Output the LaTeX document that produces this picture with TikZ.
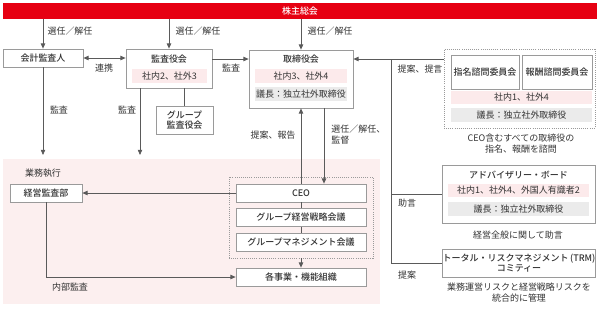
\documentclass[tikz,border=0pt]{standalone}
\usepackage{fontspec}
\setmainfont{Noto Sans CJK JP}[BoldFont={Noto Sans CJK JP Medium}]
\usepackage{tikz}
\usetikzlibrary{positioning,arrows.meta,calc}

\definecolor{barred}{HTML}{E60012}
\definecolor{rowpink}{HTML}{FCEAEB}
\definecolor{regionpink}{HTML}{FCEFEF}
\definecolor{rowgray}{HTML}{EBEBEB}
\definecolor{boxgray}{HTML}{9A9A9A}
\definecolor{linegray}{HTML}{5A5A5A}
\definecolor{txt}{HTML}{333333}

\newcommand{\dfont}{\fontsize{6.4}{8}\selectfont}

\begin{document}
\begin{tikzpicture}[
  x=0.25mm, y=-0.25mm,
  box/.style={draw=boxgray, fill=white, line width=0.5pt, inner sep=0pt,
              font=\dfont\bfseries, text=txt},
  grp/.style={draw=boxgray, densely dotted, line width=0.5pt, inner sep=0pt},
  ttl/.style={inner sep=0pt, font=\dfont\bfseries, text=txt},
  pinkrow/.style={fill=rowpink, inner sep=0pt, minimum height=3.3mm,
               font=\dfont, text=txt},
  grayrow/.style={fill=rowgray, inner sep=0pt, minimum height=3.3mm,
               font=\dfont, text=txt},
  lbl/.style={inner sep=0pt, font=\dfont, text=txt, align=center},
  line/.style={draw=linegray, line width=0.55pt},
  arr/.style={line, -{Triangle[length=1.3mm,width=1.1mm]}},
  darr/.style={line, {Triangle[length=1.3mm,width=1.1mm]}-{Triangle[length=1.3mm,width=1.1mm]}},
]
  \useasboundingbox (0,0) rectangle (600,313);

  % Business execution area
  \fill[regionpink] (3,159) rectangle (380,304);

  % General meeting of shareholders
  \node[fill=barred, minimum width=148.5mm, minimum height=4mm, inner sep=0pt,
        font=\dfont\bfseries, text=white] (soukai) at (300,11) {株主総会};

  % Auditors and board
  \node[box, minimum width=20mm, minimum height=4.5mm] (kaikei) at (43,58) {会計監査人};

  \node[box, minimum width=21.5mm, minimum height=9.75mm] (kansa) at (169,68.5) {};
  \node[ttl] (kansaT) at (169,59) {監査役会};
  \node[pinkrow, minimum width=18.75mm] (kansaR) at (169.5,76) {社内2、社外3};
  \node[box, minimum width=14.25mm, minimum height=7mm, align=center]
    (gkansa) at (184.5,120) {グループ\\[-1pt]監査役会};

  \node[box, minimum width=26mm, minimum height=14.5mm] (torishimari) at (301,79) {};
  \node[ttl] (torishimariT) at (301,59) {取締役会};
  \node[pinkrow, minimum width=23mm] (torishimariR) at (301,76) {社内3、社外4};
  \node[grayrow, minimum width=23mm] (torishimariG) at (301,94) {議長：独立社外取締役};

  % Advisory committees
  \node[grp, minimum width=37.75mm, minimum height=19.75mm] (shimon) at (519.5,88.5) {};
  \node[box, minimum width=17mm, minimum height=8.5mm] (shimei) at (485,72) {指名諮問委員会};
  \node[box, minimum width=17.5mm, minimum height=8.5mm] (houshu) at (557,72) {報酬諮問委員会};
  \node[pinkrow, minimum width=35.25mm] (shimonR) at (521.5,97.5) {社内1、社外4};
  \node[grayrow, minimum width=35.25mm] (shimonG) at (521.5,115) {議長：独立社外取締役};
  \node[lbl] (shimonN) at (521,143.5) {CEO含むすべての取締役の\\指名、報酬を諮問};

  \node[box, minimum width=38.25mm, minimum height=14.5mm] (advisory) at (518.5,194) {};
  \node[ttl] (advisoryT) at (518.5,175) {アドバイザリー・ボード};
  \node[pinkrow, minimum width=35.25mm] (advisoryR) at (518.5,190.5) {社内1、社外4、外国人有識者2};
  \node[grayrow, minimum width=35.25mm] (advisoryG) at (518.5,209) {議長：独立社外取締役};
  \node[lbl] (advisoryN) at (518,235) {経営全般に関して助言};

  \node[box, minimum width=38mm, minimum height=7mm, align=center]
    (trm) at (519,263) {トータル・リスクマネジメント\,(TRM)\\[-1pt]コミティー};
  \node[lbl] (trmN) at (519,292.5) {業務運営リスクと経営戦略リスクを\\統合的に管理};

  % Execution side
  \node[lbl] (gyomu) at (43,173) {業務執行};
  \node[box, minimum width=18mm, minimum height=4.5mm] (keiei) at (46,193) {経営監査部};
  \node[grp, minimum width=36mm, minimum height=20.25mm] (ceogrp) at (301,217.5) {};
  \node[box, minimum width=32.5mm, minimum height=4.5mm] (ceo) at (301,193) {CEO};
  \node[box, minimum width=32.5mm, minimum height=4.5mm] (senryaku) at (301,217.5) {グループ経営戦略会議};
  \node[box, minimum width=32.5mm, minimum height=4.5mm] (mgmt) at (301,242) {グループマネジメント会議};
  \node[box, minimum width=32.5mm, minimum height=4.5mm] (jigyo) at (301,277) {各事業・機能組織};

  % Election / dismissal
  \draw[arr] (soukai.south -| kaikei.north) -- (kaikei.north);
  \draw[arr] (soukai.south -| kansa.north) -- (kansa.north);
  \draw[arr] (soukai.south -| torishimari.north) -- (torishimari.north);
  \node[lbl] (sennin1) at (70,31) {選任／解任};
  \node[lbl] (sennin2) at (198,31) {選任／解任};
  \node[lbl] (sennin3) at (330,31) {選任／解任};

  % Audit links
  \draw[darr] (kaikei.east) -- (kaikei.east -| kansa.west);
  \node[lbl] (renkei) at (104,68) {連携};
  \draw[arr] (kansa.east |- torishimariT) -- (torishimari.west |- torishimariT);
  \node[lbl] (kansaL) at (231,68) {監査};
  \draw[line] (kansa.south -| gkansa.north) -- (gkansa.north);

  \coordinate (kaikeiEnd) at (43,155);
  \coordinate (kansaEnd) at (140,155);
  \draw[arr] (kaikei.south) -- (kaikeiEnd);
  \draw[arr] (kansa.south -| kansaEnd) -- (kansaEnd);
  \node[lbl] (kansaL1) at (59,110) {監査};
  \node[lbl] (kansaL2) at (127,110) {監査};

  % Board and CEO
  \draw[arr] (ceo.north) -- (torishimari.south);
  \draw[arr] ([xshift=5.75mm]torishimari.south) -- ([xshift=5.75mm]ceo.north);
  \node[lbl] (teian1) at (273,135) {提案、報告};
  \node[lbl, anchor=west, align=left] (kantoku) at (331,134.5) {選任／解任、\\監督};

  \draw[line] (ceo.south) -- (senryaku.north);
  \draw[line] (senryaku.south) -- (mgmt.north);
  \draw[arr] (ceogrp.south) -- (jigyo.north);
  \draw[arr] (ceo.west) -- (keiei.east);
  \draw[arr] (keiei.south) |- (jigyo.west);
  \node[lbl] (naibu) at (70,287) {内部監査};

  % Proposals from the right
  \coordinate (bus) at (391,59);
  \draw[arr] (shimon.west |- torishimariT) -- (torishimari.east |- torishimariT);
  \draw[line] (bus) |- (advisory.west);
  \draw[line] (bus) |- (trm.west);
  \node[lbl] (teian2) at (420,69) {提案、提言};
  \node[lbl] (jogen) at (407,203) {助言};
  \node[lbl] (teian3) at (407,275) {提案};
\end{tikzpicture}
\end{document}
